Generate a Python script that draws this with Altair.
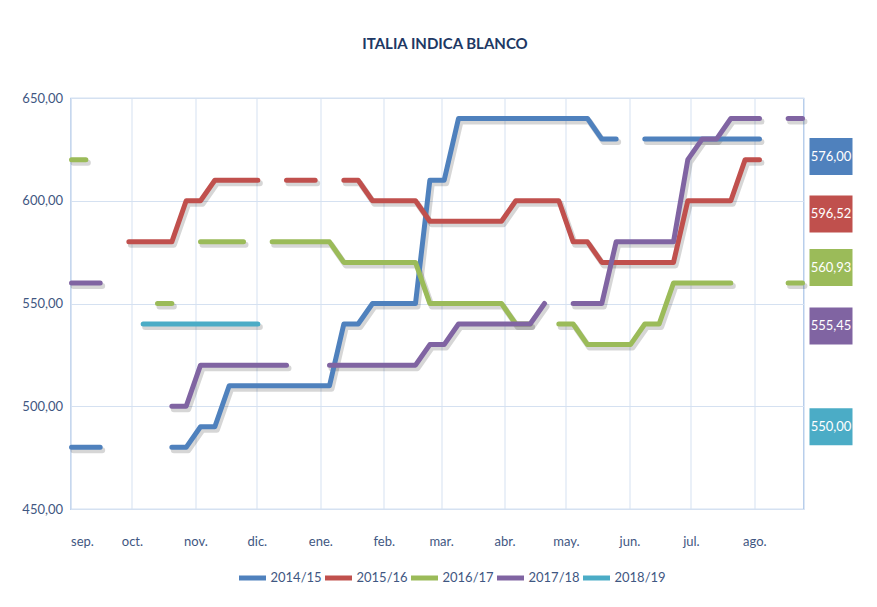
import altair as alt
import pandas as pd

N = None
seasons = ["2014/15", "2015/16", "2016/17", "2017/18", "2018/19"]
palette = ["#4F81BD", "#C0504D", "#9BBB59", "#8064A2", "#4BACC6"]

# weekly prices (week 0 = first week of September)
s2014 = [480, 480, 480, N, N, N, N, 480, 480, 490, 490, 510, 510, 510, 510, 510, 510, 510, 510,
         540, 540, 550, 550, 550, 550, 610, 610, 640, 640, 640, 640, 640, 640, 640, 640, 640, 640,
         630, 630, N, 630, 630, 630, 630, 630, 630, 630, 630, 630, N, N, N]
s2015 = [N, N, N, N, 580, 580, 580, 580, 600, 600, 610, 610, 610, 610, N, 610, 610, 610, N,
         610, 610, 600, 600, 600, 600, 590, 590, 590, 590, 590, 590, 600, 600, 600, 600, 580, 580,
         570, 570, 570, 570, 570, 570, 600, 600, 600, 600, 620, 620, N, N, N]
s2016 = [620, 620, N, N, N, N, 550, 550, N, 580, 580, 580, 580, N, 580, 580, 580, 580, 580,
         570, 570, 570, 570, 570, 570, 550, 550, 550, 550, 550, 550, 540, 540, N, 540, 540,
         530, 530, 530, 530, 540, 540, 560, 560, 560, 560, 560, N, N, N, 560, 560]
s2017 = [560, 560, 560, N, N, N, N, 500, 500, 520, 520, 520, 520, 520, 520, 520, N, N,
         520, 520, 520, 520, 520, 520, 520, 530, 530, 540, 540, 540, 540, 540, 540, 550, N,
         550, 550, 550, 580, 580, 580, 580, 580, 620, 630, 630, 640, 640, 640, N, 640, 640]
s2018 = [N, N, N, N, N, 540, 540, 540, 540, 540, 540, 540, 540, 540,
         N, N, N, N, N, N, N, N, N, N, N, N, N, N, N, N, N, N, N, N, N, N, N, N,
         N, N, N, N, N, N, N, N, N, N, N, N, N, N]
series = [s2014, s2015, s2016, s2017, s2018]

month_labels = ["sep.", "oct.", "nov.", "dic.", "ene.", "feb.", "mar.", "abr.", "may.", "jun.", "jul.", "ago."]
month_days = [0, 30, 61, 91, 122, 153, 181, 212, 242, 273, 303, 334]
y_ticks = [450, 500, 550, 600, 650]

side_labels = ["576,00", "596,52", "560,93", "555,45", "550,00"]
side_label_pos = [621.5, 593.5, 567.5, 539.0, 490.0]

rows = []
for name, vals in zip(seasons, series):
    for w, v in enumerate(vals):
        rows.append({"season": name, "day": 7 * w + 0.5, "value": v})
df = pd.DataFrame(rows)

FONT = "Lato, sans-serif"
TXT = "#3F5782"
GRID = "#D5E1F1"

label_expr = "[" + ",".join("'%s'" % m for m in month_labels) + "][indexof([" + \
    ",".join(str(d) for d in month_days) + "], datum.value)]"

x = alt.X("day:Q", scale=alt.Scale(domain=[0, 358], nice=False, zero=False),
          axis=alt.Axis(values=month_days, labelExpr=label_expr, grid=True, gridColor=GRID,
                        ticks=False, domain=False, title=None, labelPadding=26,
                        labelFontSize=13, labelFont=FONT, labelColor=TXT))
yaxis = alt.Axis(values=y_ticks, labelExpr="replace(format(datum.value, '.2f'), '.', ',')",
                 grid=True, gridColor=GRID, ticks=False, domain=False, title=None,
                 labelPadding=8, labelFontSize=13, labelFont=FONT, labelColor=TXT)
yscale = alt.Scale(domain=[450, 650], nice=False, zero=False)
y = alt.Y("value:Q", scale=yscale, axis=yaxis)

shadow = alt.Chart(df).mark_line(color="#000000", opacity=0.16, strokeWidth=6, xOffset=2, yOffset=3,
                                 strokeCap="round", strokeJoin="round").encode(
    x=x, y=y, detail="season:N")

lines = alt.Chart(df).mark_line(strokeWidth=5, strokeCap="round", strokeJoin="round").encode(
    x=x, y=y,
    color=alt.Color("season:N", scale=alt.Scale(domain=seasons, range=palette),
                    legend=alt.Legend(title=None, orient="none", legendX=166, legendY=464,
                                      direction="horizontal", symbolType="stroke",
                                      symbolStrokeWidth=5, symbolSize=729, labelFontSize=13,
                                      labelFont=FONT, labelColor=TXT, columnPadding=-8,
                                      labelOffset=2)))

boxes = []
for i in range(len(seasons)):
    d = pd.DataFrame({"value": [side_label_pos[i] + 9], "value2": [side_label_pos[i] - 9],
                      "mid": [side_label_pos[i]], "txt": [side_labels[i]]})
    r = alt.Chart(d).mark_rect(color=palette[i]).encode(
        x=alt.value(739), x2=alt.value(782),
        y=alt.Y("value:Q", scale=yscale, axis=yaxis), y2="value2:Q")
    t = alt.Chart(d).mark_text(color="white", fontSize=13, font=FONT, align="center",
                               baseline="middle").encode(
        x=alt.value(760.5), y=alt.Y("mid:Q", scale=yscale, axis=yaxis), text="txt:N")
    boxes += [r, t]

chart = alt.layer(shadow, lines, *boxes).properties(
    width=733, height=411,
    title=alt.TitleParams("ITALIA INDICA BLANCO", fontSize=15, font=FONT, fontWeight="bold",
                          color="#203864", offset=40, anchor="middle", dx=8),
    autosize=alt.AutoSizeParams(type="none"),
    padding={"left": 62.5, "top": 90, "right": 65.5, "bottom": 90},
    background="white",
).configure_view(stroke="#A7C2E6", strokeWidth=1.2)

chart.save("out.html", embed_options={"renderer": "svg", "actions": False})
